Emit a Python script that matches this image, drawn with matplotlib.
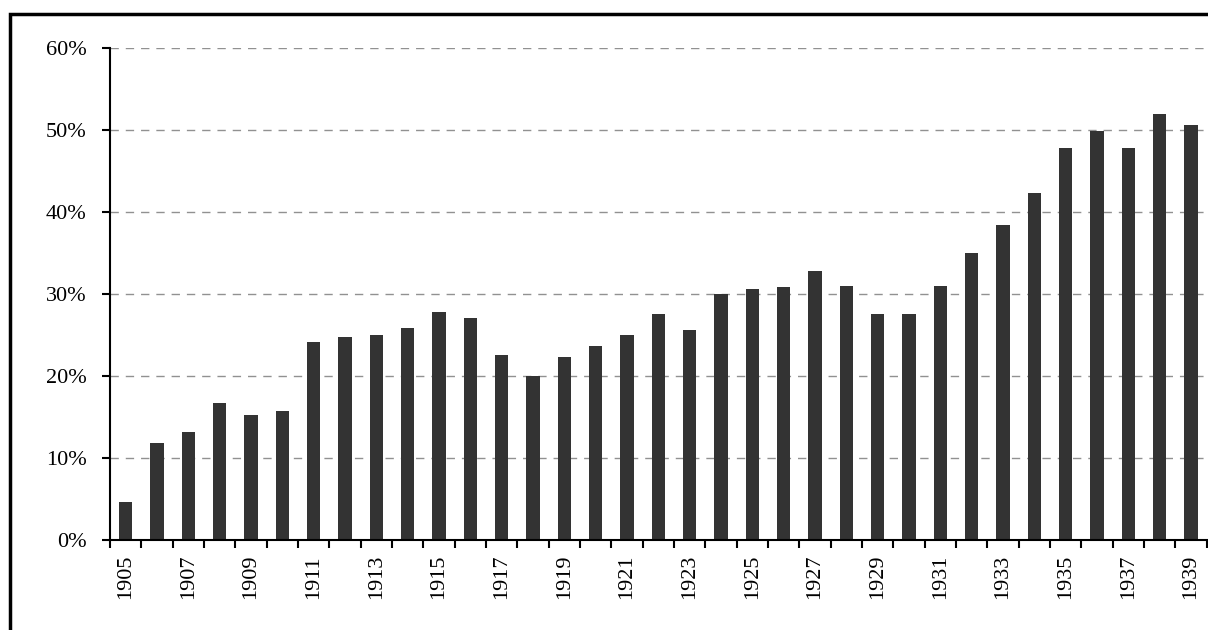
import numpy as np
import matplotlib.pyplot as plt
from matplotlib import font_manager
from matplotlib.patches import Rectangle
from matplotlib.ticker import FixedLocator, FuncFormatter

years = list(range(1905, 1940))
shares = [4.6, 11.8, 13.1, 16.7, 15.2, 15.7, 24.2, 24.7, 25.0, 25.9,
          27.8, 27.1, 22.6, 20.0, 22.3, 23.6, 25.0, 27.5, 25.6, 30.0,
          30.6, 30.8, 32.8, 31.0, 27.5, 27.5, 31.0, 35.0, 38.4, 42.3,
          47.8, 49.9, 47.8, 52.0, 50.6]
label_years = years[::2]

# pick a Times-like face if one is available
names = sorted({f.name for f in font_manager.fontManager.ttflist})
serif = 'DejaVu Serif'
for cand in ['Liberation Serif', 'Times New Roman', 'Nimbus Roman',
             'TeX Gyre Termes', 'FreeSerif', 'Noto Serif']:
    if cand in names:
        serif = cand
        break
plt.rcParams['font.family'] = [serif, 'DejaVu Serif']

fig = plt.figure(figsize=(12.08, 6.3), dpi=100)
ax = fig.add_axes([110 / 1208, 1 - 539.7 / 630, 1096.6 / 1208, 491.4 / 630])

x = np.arange(len(years))
ax.bar(x, np.array(shares) / 100, width=0.42, color='#333333', zorder=3)

ax.set_xlim(-0.5, len(years) - 0.5)
ax.set_ylim(0, 0.6)

# y axis
ax.set_yticks(np.arange(0, 0.61, 0.1))
ax.yaxis.set_major_formatter(FuncFormatter(lambda v, p: f'{v * 100:.0f}%'))
ax.tick_params(axis='y', direction='out', length=6, width=1.5, pad=11,
               labelsize=16)
ax.grid(axis='y', color='#919191', linewidth=1, linestyle=(0, (6, 5)),
        zorder=1)

# x axis: ticks on category boundaries, labels on every other year
ax.xaxis.set_major_locator(FixedLocator(np.arange(-0.5, len(years), 1.0)))
ax.xaxis.set_major_formatter(FuncFormatter(lambda v, p: ''))
ax.xaxis.set_minor_locator(FixedLocator(x[::2]))
ax.set_xticklabels([str(y) for y in label_years], minor=True, rotation=90)
ax.tick_params(axis='x', which='major', direction='out', length=6, width=1.5)
ax.tick_params(axis='x', which='minor', length=0, pad=11, labelsize=16)

for side in ['top', 'right']:
    ax.spines[side].set_visible(False)
for side in ['left', 'bottom']:
    ax.spines[side].set_linewidth(1.5)
    ax.spines[side].set_color('black')
    ax.spines[side].set_zorder(4)

# outer frame around the chart
fig.patches.append(Rectangle((10 / 1208, -0.1), 1.2, 1 - 14 / 630 + 0.1,
                             transform=fig.transFigure, fill=False,
                             edgecolor='black', linewidth=2.5))

fig.savefig('out.png', dpi=100)
